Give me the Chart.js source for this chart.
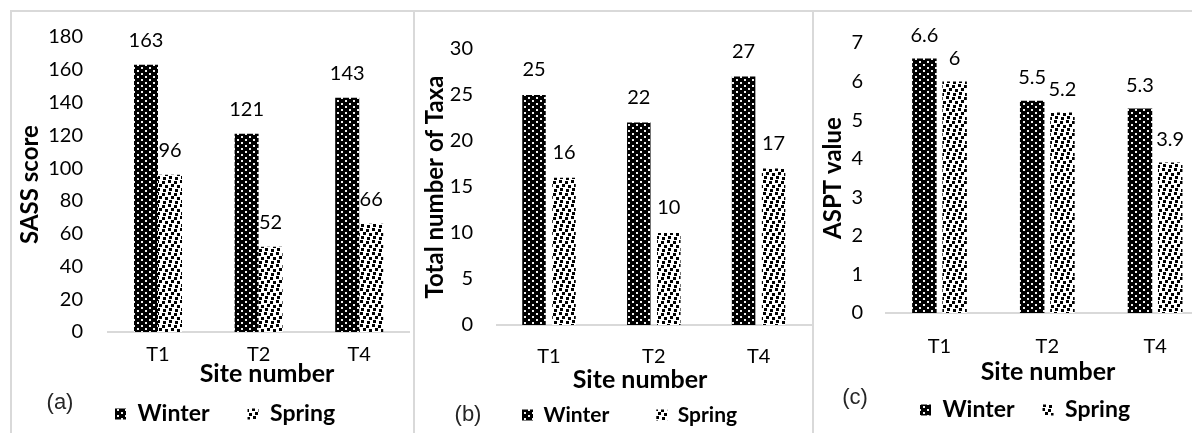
<!DOCTYPE html>
<html>
<head>
<meta charset="utf-8">
<script src="https://cdn.jsdelivr.net/npm/chart.js@4.4.1/dist/chart.umd.min.js"></script>
<style>
  html, body { margin: 0; padding: 0; background: #fff; }
  body { position: relative; width: 1192px; height: 433px; overflow: hidden; }
  .rule { position: absolute; background: #d9d9d9; }
  canvas { position: absolute; }
</style>
</head>
<body>
<div class="rule" style="left:10px;top:10px;width:1182px;height:2px"></div>
<div class="rule" style="left:10px;top:10px;width:2px;height:423px"></div>
<div class="rule" style="left:413px;top:10px;width:2px;height:423px"></div>
<div class="rule" style="left:812px;top:10px;width:2px;height:423px"></div>
<canvas id="panelA" width="400" height="421" style="left:12px;top:12px;width:400px;height:421px"></canvas>
<canvas id="panelB" width="397" height="421" style="left:415px;top:12px;width:397px;height:421px"></canvas>
<canvas id="panelC" width="400" height="421" style="left:814px;top:12px;width:400px;height:421px"></canvas>
<script>
// Sampling sites and seasons
const sites = ['T1', 'T2', 'T4'];
const seasons = ['Winter', 'Spring'];

// SASS score per site
const sassWinter = [163, 121, 143];
const sassSpring = [96, 52, 66];

// Total number of taxa per site
const taxaWinter = [25, 22, 27];
const taxaSpring = [16, 10, 17];

// ASPT value per site
const asptWinter = [6.6, 5.5, 5.3];
const asptSpring = [6, 5.2, 3.9];

// Value axes: [min, max, step]
const sassAxis = [0, 180, 20];
const taxaAxis = [0, 30, 5];
const asptAxis = [0, 7, 1];

const X_AXIS_H = 80;
const INK = '#000';
const FAMILY = 'Lato, "Open Sans", sans-serif';

Chart.defaults.font.family = FAMILY;
Chart.defaults.color = INK;

// Hatch tiles for the two seasons
function makeTile(w, h, bg, fg, spots, size) {
  const c = document.createElement('canvas');
  c.width = w; c.height = h;
  const g = c.getContext('2d');
  g.fillStyle = bg; g.fillRect(0, 0, w, h);
  g.fillStyle = fg;
  spots.forEach(([x, y]) => g.fillRect(x, y, size, size));
  return c;
}
const winterTile = makeTile(8, 6, '#000', '#f2f2f2', [[1, 1], [5, 4]], 2);
const springTile = makeTile(12, 12, '#fff', '#000',
  [[0, 0], [6, 1], [3, 4], [9, 5], [1, 8], [7, 9]], 3);

// Value labels above every bar
function barValues(lift) {
  return {
    id: 'barValues',
    afterDatasetsDraw(chart) {
      const ctx = chart.ctx;
      ctx.save();
      ctx.font = '20px ' + FAMILY;
      ctx.fillStyle = INK;
      ctx.textAlign = 'center';
      ctx.textBaseline = 'middle';
      chart.data.datasets.forEach((ds, i) => {
        chart.getDatasetMeta(i).data.forEach((bar, j) => {
          ctx.fillText(String(ds.data[j]), bar.x, bar.y - lift);
        });
      });
      ctx.restore();
    }
  };
}

// Axis caption and panel letter
function captions(items) {
  return {
    id: 'captions',
    afterDraw(chart) {
      const ctx = chart.ctx;
      items.forEach(it => {
        ctx.save();
        ctx.font = it.css;
        ctx.fillStyle = it.color || INK;
        ctx.textAlign = 'center';
        ctx.textBaseline = 'middle';
        ctx.fillText(it.text, it.x, it.y);
        ctx.restore();
      });
    }
  };
}

// Puts the legend row at a fixed spot under the axis
function legendAt(x, y, size) {
  return {
    id: 'legendAt',
    afterLayout(chart) {
      const lg = chart.legend;
      if (!lg) return;
      const pad = lg.options.labels.padding;
      lg.left = x - pad; lg.width = 390; lg.right = lg.left + lg.width;
      lg.top = y - pad - size / 2; lg.height = pad + size + 20; lg.bottom = lg.top + lg.height;
    }
  };
}

function buildPanel(cfg) {
  const canvas = document.getElementById(cfg.canvasId);
  const ctx = canvas.getContext('2d');
  const winterFill = ctx.createPattern(winterTile, 'repeat');
  const springFill = ctx.createPattern(springTile, 'repeat');
  const titleSize = 24;
  return new Chart(ctx, {
    type: 'bar',
    data: {
      labels: sites,
      datasets: [
        { label: seasons[0], data: cfg.winter, backgroundColor: winterFill, borderWidth: 0 },
        { label: seasons[1], data: cfg.spring, backgroundColor: springFill, borderWidth: 0 }
      ]
    },
    options: {
      responsive: false,
      animation: false,
      events: [],
      layout: {
        padding: {
          left: 0,
          top: cfg.area.top,
          right: canvas.width - cfg.area.right,
          bottom: canvas.height - cfg.area.bottom - X_AXIS_H - 1
        }
      },
      datasets: { bar: { categoryPercentage: cfg.cat, barPercentage: cfg.bar } },
      scales: {
        x: {
          grid: { display: false, drawTicks: false },
          border: { display: true, color: '#d9d9d9', width: 2 },
          ticks: { padding: cfg.xTickPad, font: { size: 20 }, color: INK },
          afterFit: s => {
            s.height = X_AXIS_H;
            s.paddingLeft = 0; s.paddingRight = 0;
          }
        },
        y: {
          min: cfg.axis[0],
          max: cfg.axis[1],
          grid: { display: false, drawTicks: false },
          border: { display: false },
          ticks: { stepSize: cfg.axis[2], padding: cfg.area.left - cfg.tickRight, font: { size: 20 }, color: INK },
          title: {
            display: true,
            text: cfg.yTitle,
            color: INK,
            font: { size: titleSize, weight: 'bold' },
            padding: { top: cfg.yTitleX - titleSize * 0.6, bottom: 0 }
          },
          afterFit: s => {
            s.width = cfg.area.left;
            s.paddingTop = 0; s.paddingBottom = 0;
          }
        }
      },
      plugins: {
        legend: {
          position: 'bottom',
          align: 'start',
          maxHeight: 1,
          labels: {
            boxWidth: 11,
            boxHeight: 11,
            padding: cfg.legendGap,
            color: INK,
            font: { size: cfg.legendSize, weight: 'bold' }
          }
        },
        tooltip: { enabled: false }
      }
    },
    plugins: [
      barValues(cfg.lift),
      captions([
        { text: 'Site number', x: cfg.xTitle[0], y: cfg.xTitle[1], css: 'bold 25px ' + FAMILY },
        { text: cfg.letter, x: cfg.letterAt[0], y: cfg.letterAt[1], css: '22px "Liberation Sans", Arial, sans-serif', color: '#262626' }
      ]),
      legendAt(cfg.legendAt[0], cfg.legendAt[1], cfg.legendSize)
    ]
  });
}

function drawAll() {
  buildPanel({
    canvasId: 'panelA', winter: sassWinter, spring: sassSpring, axis: sassAxis,
    yTitle: 'SASS score', letter: '(a)',
    area: { left: 95.7, right: 397.5, top: 25, bottom: 320 },
    tickRight: 71, yTitleX: 18, xTickPad: 11,
    cat: 0.477, bar: 1.0, lift: 24,
    xTitle: [255, 362], letterAt: [48, 391],
    legendAt: [103, 402], legendSize: 23, legendGap: 38
  });
  buildPanel({
    canvasId: 'panelB', winter: taxaWinter, spring: taxaSpring, axis: taxaAxis,
    yTitle: 'Total number of Taxa', letter: '(b)',
    area: { left: 81.6, right: 396, top: 37, bottom: 313 },
    tickRight: 58, yTitleX: 20, xTickPad: 20,
    cat: 0.5725, bar: 0.783, lift: 25,
    xTitle: [225, 368], letterAt: [53, 403],
    legendAt: [107, 403], legendSize: 21, legendGap: 47
  });
  buildPanel({
    canvasId: 'panelC', winter: asptWinter, spring: asptSpring, axis: asptAxis,
    yTitle: 'ASPT value', letter: '(c)',
    area: { left: 71.6, right: 395, top: 31, bottom: 301 },
    tickRight: 49, yTitleX: 19, xTickPad: 22,
    cat: 0.561, bar: 0.81, lift: 23,
    xTitle: [234, 360], letterAt: [41, 386],
    legendAt: [106, 398], legendSize: 23, legendGap: 28
  });
}

const fontReady = document.fonts && document.fonts.load
  ? Promise.all([
      document.fonts.load('20px Lato'),
      document.fonts.load('bold 24px Lato'),
      document.fonts.load('22px "Liberation Sans"')
    ]).catch(() => null)
  : Promise.resolve();
fontReady.then(drawAll, drawAll);
</script>
</body>
</html>
